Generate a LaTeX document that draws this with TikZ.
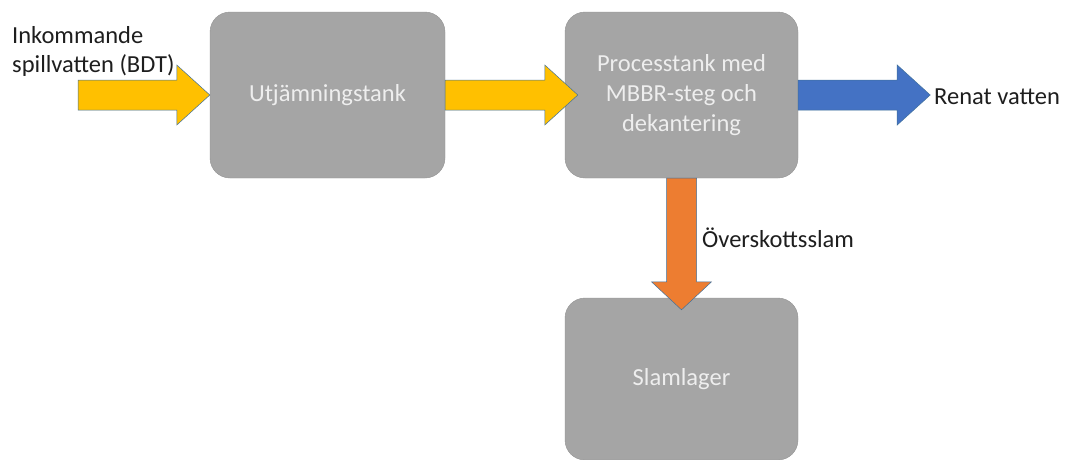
\documentclass[tikz,border=0pt]{standalone}
\usepackage{fontspec}
\setmainfont{Carlito}
\usetikzlibrary{calc}
\definecolor{boxgray}{HTML}{A5A5A5}
\definecolor{boxtext}{HTML}{EEEEEE}
\definecolor{lbltext}{HTML}{1E1E1E}
\definecolor{ayellow}{HTML}{FFC000}
\definecolor{ablue}{HTML}{4472C4}
\definecolor{aorange}{HTML}{ED7D31}
\definecolor{aline}{HTML}{41719C}
\tikzset{
  tank/.style={fill=boxgray, draw=boxgray!90!black, line width=0.4pt, rounded corners=20pt,
    text=boxtext, align=center, font=\fontsize{24.5}{30}\selectfont, inner sep=0pt},
  lbl/.style={font=\fontsize{24.5}{29}\selectfont, text=lbltext, inner sep=0pt, align=left},
  barrow/.style={draw=aline, line width=0.5pt}
}
\newcommand\harrow[3]{%
  \filldraw[barrow, fill=#3] ($(#1)+(0,-15)$) -- ($(#2)+(-33,-15)$) -- ($(#2)+(-33,-30)$) -- (#2)
    -- ($(#2)+(-33,30)$) -- ($(#2)+(-33,15)$) -- ($(#1)+(0,15)$) -- cycle;}
\newcommand\varrow[3]{%
  \filldraw[barrow, fill=#3] ($(#1)+(-15,0)$) -- ($(#2)+(-15,-28)$) -- ($(#2)+(-30,-28)$) -- (#2)
    -- ($(#2)+(30,-28)$) -- ($(#2)+(15,-28)$) -- ($(#1)+(15,0)$) -- cycle;}
\begin{document}
\begin{tikzpicture}[x=1pt,y=-1pt]
\useasboundingbox[fill=white] (0,0) rectangle (1065,459);
\node[tank, minimum width=235pt, minimum height=166pt] (utj) at (327.5,95) {Utjämningstank};
\node[tank, minimum width=233pt, minimum height=166pt] (proc) at (681.5,95) {Processtank med\\MBBR-steg och\\dekantering};
\node[tank, minimum width=233pt, minimum height=162pt] (slam) at (681.5,379) {Slamlager};
\node[lbl, anchor=west] (in) at (12,51) {Inkommande\\spillvatten (BDT)};
\node[lbl, anchor=west] (ren) at (934,97) {Renat vatten};
\node[lbl, anchor=west] (over) at (702,238) {Överskottsslam};
\coordinate (s1) at (78,95);
\coordinate (e1) at (utj.west);
\coordinate (e2) at ($(proc.west)+(13,0)$);
\coordinate (e3) at ($(proc.east)+(132,0)$);
\coordinate (e4) at ($(slam.north)+(0,12)$);
\harrow{s1}{e1}{ayellow}
\harrow{utj.east}{e2}{ayellow}
\harrow{proc.east}{e3}{ablue}
\varrow{proc.south}{e4}{aorange}
\end{tikzpicture}
\end{document}
